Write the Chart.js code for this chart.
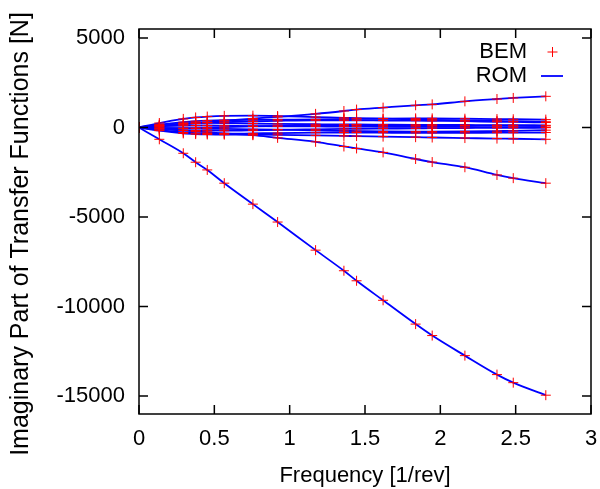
<!DOCTYPE html>
<html lang="en">
<head>
  <meta charset="UTF-8">
  <title>Imaginary Part of Transfer Functions</title>
  <style>
    html, body { margin: 0; padding: 0; background: #fff; overflow: hidden; }
  </style>
</head>
<body>
  <canvas id="myChart" width="600" height="489"></canvas>

<script src="https://cdn.jsdelivr.net/npm/chart.js"></script>
<script>
  // frequencies where BEM was evaluated [1/rev]
  const freq = [0, 0.135, 0.294, 0.376, 0.453, 0.566, 0.756, 0.92, 1.172, 1.36, 1.444, 1.62, 1.836, 1.946, 2.163, 2.376, 2.484, 2.70];

  // imaginary part of each transfer function [N]
  const tfBig   = [0, -660, -1440, -1940, -2370, -3110, -4280, -5280, -6850, -8000, -8560, -9650, -10980, -11620, -12740, -13800, -14250, -14950];
  const tfNeg   = [0, -80, -170, -220, -260, -330, -430, -580, -800, -1060, -1170, -1390, -1760, -1930, -2220, -2650, -2830, -3110];
  const tfPos   = [0, 90, 180, 240, 290, 370, 500, 590, 760, 920, 1000, 1110, 1240, 1290, 1460, 1590, 1650, 1740];
  const tfA     = [0, 250, 480, 560, 610, 650, 660, 640, 580, 540, 520, 490, 450, 430, 400, 370, 350, 320];
  const tfB     = [0, 160, 300, 350, 380, 410, 430, 440, 450, 470, 480, 500, 510, 510, 490, 470, 460, 440];
  const tfC     = [0, 120, 220, 250, 260, 250, 220, 200, 180, 170, 170, 160, 150, 150, 140, 130, 130, 120];
  const tfD     = [0, 60, 100, 110, 110, 100, 80, 70, 60, 50, 50, 40, 40, 30, 30, 20, 20, 10];
  const tfE     = [0, -30, -40, -30, -10, 20, 60, 90, 120, 130, 130, 130, 120, 120, 110, 100, 100, 90];
  const tfF     = [0, -80, -150, -170, -180, -180, -160, -130, -100, -80, -70, -60, -50, -40, -30, -20, -20, -10];
  const tfG     = [0, -150, -280, -320, -340, -350, -330, -310, -290, -280, -280, -290, -300, -300, -300, -290, -290, -280];
  const tfH     = [0, -180, -330, -370, -390, -400, -400, -410, -440, -470, -480, -510, -540, -560, -590, -620, -630, -660];
  const tfI     = [0, 100, 200, 240, 270, 300, 340, 370, 400, 400, 400, 390, 380, 370, 350, 320, 310, 280];
  const tfJ     = [0, -20, -50, -60, -70, -80, -100, -120, -160, -190, -200, -220, -230, -230, -220, -200, -190, -150];

  const allSeries = [tfBig, tfNeg, tfPos, tfA, tfB, tfC, tfD, tfE, tfF, tfG, tfH, tfI, tfJ];

  const xTicks = [0, 0.5, 1, 1.5, 2, 2.5, 3];
  const yTicks = [-15000, -10000, -5000, 0, 5000];

  const font = "'Liberation Sans', Arial, Helvetica, sans-serif";

  // BEM: every sample as a red cross
  const bemPoints = [];
  allSeries.forEach(s => s.forEach((v, i) => bemPoints.push({ x: freq[i], y: v })));

  const datasets = [{
    label: 'BEM',
    data: bemPoints,
    showLine: false,
    pointStyle: 'cross',
    pointRadius: 5,
    pointBorderWidth: 1,
    borderColor: '#ff0000',
    backgroundColor: '#ff0000',
    order: 0
  }];
  allSeries.forEach(s => {
    datasets.push({
      label: 'ROM',
      data: s.map((v, i) => ({ x: freq[i], y: v })),
      showLine: true,
      borderColor: '#0000ff',
      borderWidth: 1.8,
      pointRadius: 0,
      cubicInterpolationMode: 'monotone',
      order: 1
    });
  });

  // gnuplot style frame, inward ticks, legend and y title
  const gnuFrame = {
    id: 'gnuFrame',
    afterDraw(chart) {
      const ctx = chart.ctx;
      const a = chart.chartArea;
      const xs = chart.scales.x, ys = chart.scales.y;
      ctx.save();
      ctx.strokeStyle = '#000';
      ctx.lineWidth = 1.5;
      ctx.strokeRect(a.left, a.top, a.right - a.left, a.bottom - a.top);
      ctx.beginPath();
      xTicks.forEach(v => {
        const px = xs.getPixelForValue(v);
        ctx.moveTo(px, a.bottom); ctx.lineTo(px, a.bottom - 9);
        ctx.moveTo(px, a.top); ctx.lineTo(px, a.top + 9);
      });
      yTicks.forEach(v => {
        const py = ys.getPixelForValue(v);
        ctx.moveTo(a.left, py); ctx.lineTo(a.left + 9, py);
        ctx.moveTo(a.right, py); ctx.lineTo(a.right - 9, py);
      });
      ctx.stroke();

      // legend
      ctx.font = '22px ' + font;
      ctx.fillStyle = '#000';
      ctx.textAlign = 'right';
      ctx.textBaseline = 'middle';
      ctx.fillText(chart.data.datasets[0].label, 527, 52);
      ctx.fillText(chart.data.datasets[1].label, 527, 76);
      ctx.strokeStyle = '#ff0000';
      ctx.lineWidth = 1;
      ctx.beginPath();
      ctx.moveTo(547.5, 52); ctx.lineTo(557.5, 52);
      ctx.moveTo(552.5, 47); ctx.lineTo(552.5, 57);
      ctx.stroke();
      ctx.strokeStyle = '#0000ff';
      ctx.lineWidth = 1.8;
      ctx.beginPath();
      ctx.moveTo(541, 76); ctx.lineTo(563, 76);
      ctx.stroke();

      // y title
      ctx.translate(21, 234);
      ctx.rotate(-Math.PI / 2);
      ctx.textAlign = 'center';
      ctx.fillStyle = '#000';
      ctx.font = '25px ' + font;
      ctx.fillText('Imaginary Part of Transfer Functions [N]', 0, 0);
      ctx.restore();
    }
  };

  new Chart(document.getElementById('myChart'), {
    type: 'scatter',
    data: { datasets: datasets },
    options: {
      responsive: false,
      animation: false,
      devicePixelRatio: 1,
      layout: { padding: { top: 29, right: 9, left: 0, bottom: 0 } },
      plugins: {
        legend: { display: false },
        tooltip: { enabled: false }
      },
      scales: {
        x: {
          type: 'linear',
          min: 0,
          max: 3,
          afterBuildTicks: axis => { axis.ticks = xTicks.map(v => ({ value: v })); },
          afterFit: axis => {
            axis.height = 75;
            axis.paddingLeft = 0;
            axis.paddingRight = 0;
          },
          grid: { display: false, drawTicks: false },
          border: { display: false },
          ticks: {
            color: '#000',
            font: { family: font, size: 22 },
            padding: 12,
            maxRotation: 0,
            callback: v => String(v)
          },
          title: {
            display: true,
            text: 'Frequency [1/rev]',
            color: '#000',
            font: { family: font, size: 22 },
            padding: { top: 4, bottom: 0 }
          }
        },
        y: {
          type: 'linear',
          min: -16000,
          max: 5500,
          afterBuildTicks: axis => { axis.ticks = yTicks.map(v => ({ value: v })); },
          afterFit: axis => {
            axis.width = 139;
            axis.paddingTop = 0;
            axis.paddingBottom = 0;
          },
          grid: { display: false, drawTicks: false },
          border: { display: false },
          ticks: {
            color: '#000',
            font: { family: font, size: 22 },
            padding: 14,
            callback: v => String(v)
          }
        }
      }
    },
    plugins: [gnuFrame]
  });
</script>
</body>
</html>
